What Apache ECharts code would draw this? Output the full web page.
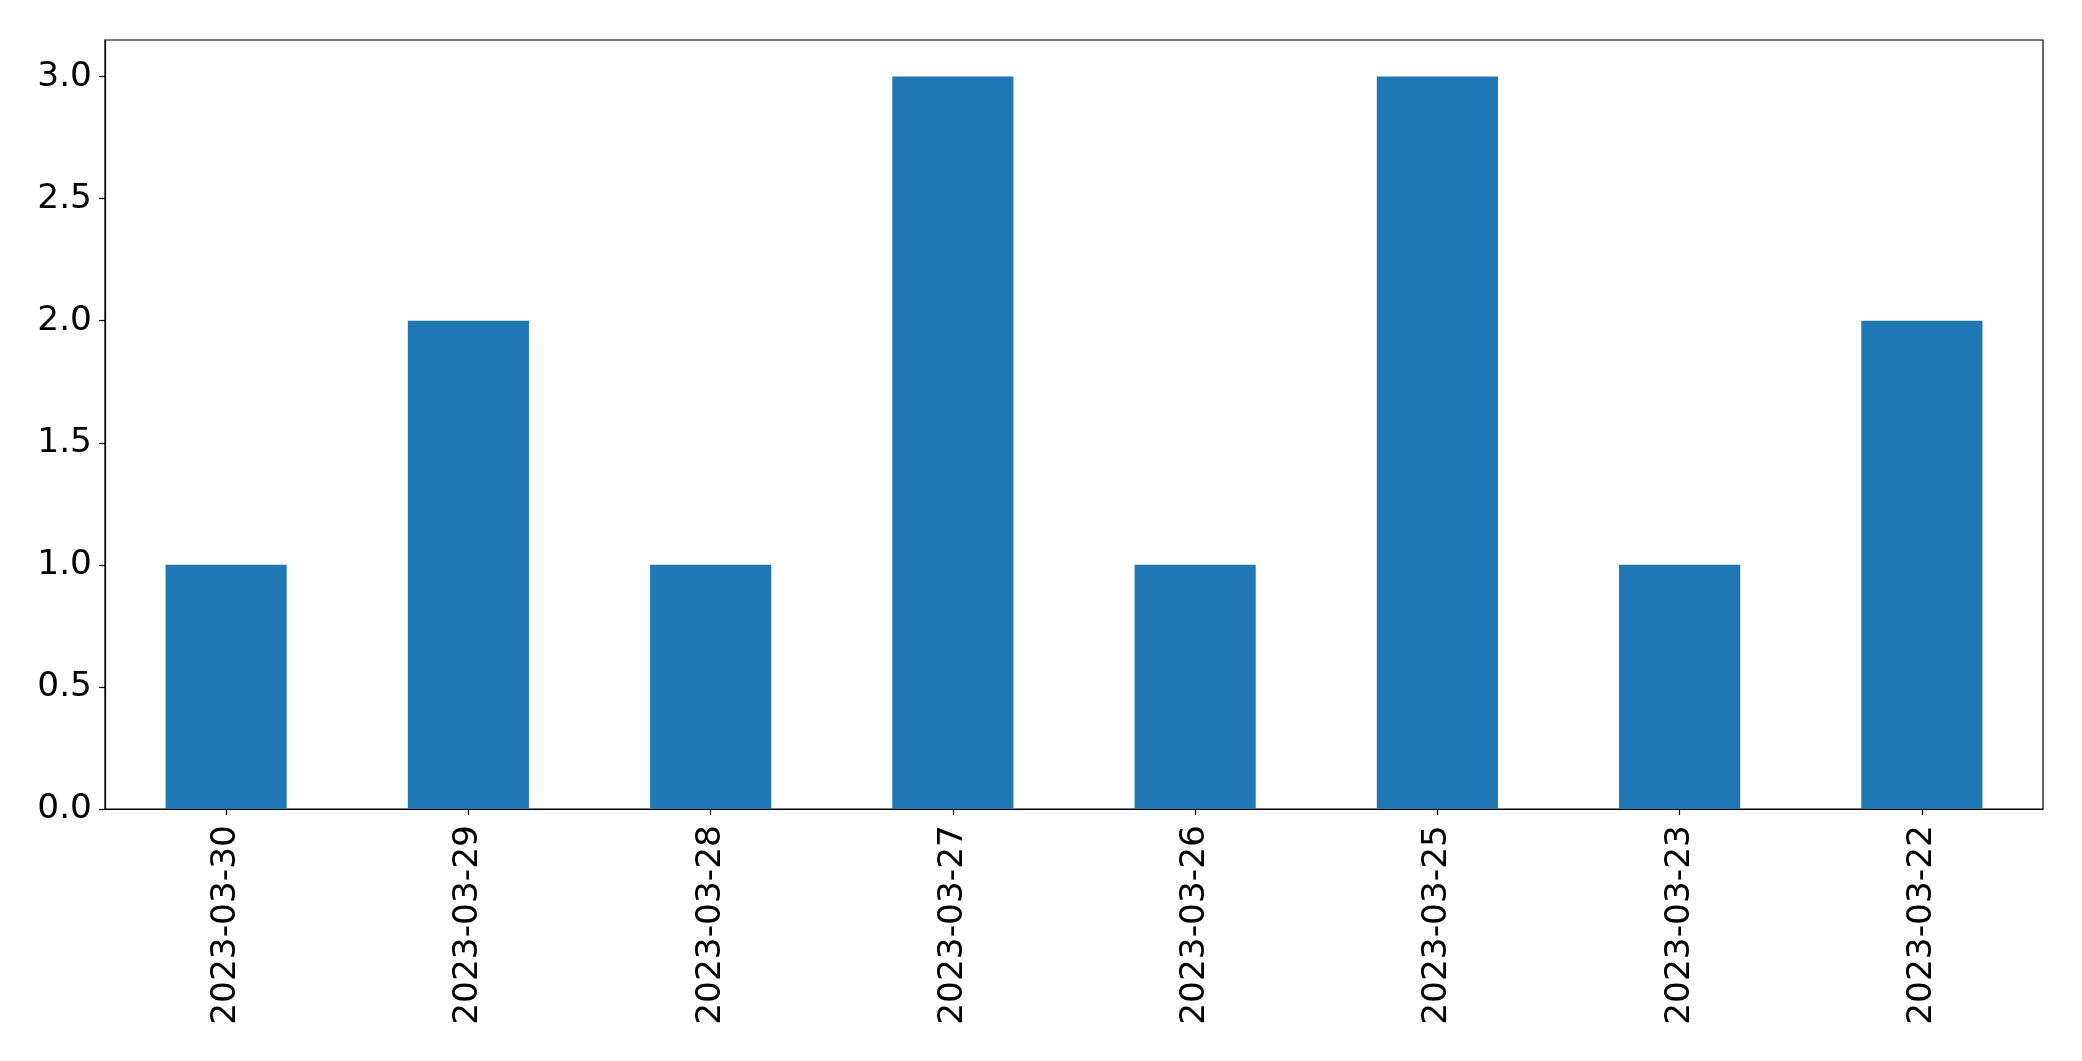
<!DOCTYPE html>
<html>
<head>
<meta charset="utf-8">
<script src="https://cdn.jsdelivr.net/npm/echarts@6/dist/echarts.min.js"></script>
<style>html,body{margin:0;padding:0;background:#fff;}#c{width:2082px;height:1061px;}</style>
</head>
<body>
<div id="c"></div>
<script>
const categories = ['2023-03-30','2023-03-29','2023-03-28','2023-03-27','2023-03-26','2023-03-25','2023-03-23','2023-03-22'];
const counts = [1, 2, 1, 3, 1, 3, 1, 2];
const yTicks = [0, 0.5, 1.0, 1.5, 2.0, 2.5, 3.0];

const chart = echarts.init(document.getElementById('c'), null, {renderer: 'canvas'});
const font = 'DejaVu Sans';
chart.setOption({
  animation: false,
  backgroundColor: '#ffffff',
  grid: {left: 105, right: 39, top: 40, bottom: 252, show: true, borderColor: '#000', borderWidth: 1.2, containLabel: false},
  xAxis: {
    type: 'category',
    data: categories,
    boundaryGap: true,
    axisLine: {show: true, lineStyle: {color: '#000', width: 1.2}},
    axisTick: {show: true, alignWithLabel: true, length: 6, lineStyle: {color: '#000', width: 1.2}},
    axisLabel: {rotate: 90, margin: 16, color: '#000', fontFamily: font, fontSize: 34.4},
    splitLine: {show: false}
  },
  yAxis: {
    type: 'value',
    min: 0,
    max: 3.15,
    axisLine: {show: true, lineStyle: {color: '#000', width: 1.2}},
    axisTick: {show: true, length: 6, customValues: yTicks, lineStyle: {color: '#000', width: 1.2}},
    axisLabel: {customValues: yTicks, margin: 13, color: '#000', fontFamily: font, fontSize: 34.4,
      formatter: v => Number(v).toFixed(1)},
    splitLine: {show: false}
  },
  series: [{
    type: 'bar',
    data: counts,
    barWidth: '50%',
    itemStyle: {color: '#1f77b4'}
  }]
});
</script>
</body>
</html>
